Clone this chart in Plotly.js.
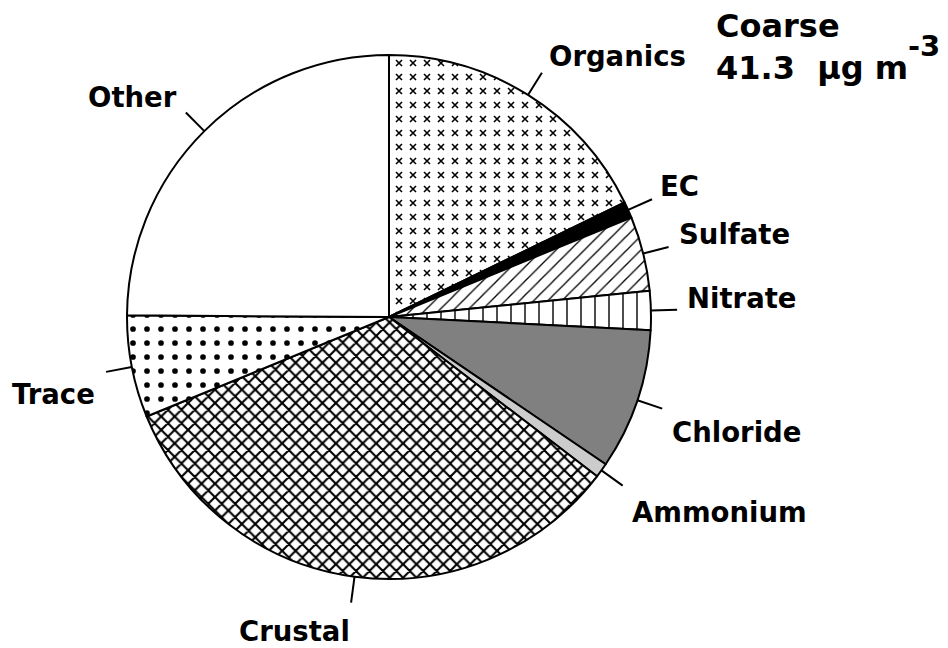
<!DOCTYPE html>
<html>
<head>
<meta charset="utf-8">
<script src="https://cdn.plot.ly/plotly-3.0.1.min.js"></script>
<style>
html,body{margin:0;padding:0;background:#fff;}
#chart{width:948px;height:648px;}
</style>
</head>
<body>
<div id="chart"></div>
<script>
// ---- data ----
const categories = ['Organics', 'EC', 'Sulfate', 'Nitrate', 'Chloride', 'Ammonium', 'Crustal', 'Trace', 'Other'];
const values = [17.8, 1.0, 4.6, 2.4, 8.7, 0.9, 33.4, 6.3, 24.9];
const titleLine1 = 'Coarse';
const titleLine2 = '41.3\u00a0\u00a0\u00b5g m';
const titleExponent = '-3';

// ---- styles ----
const sliceColors = ['#000000', '#000000', '#000000', '#000000', '#808080', '#cccccc', '#000000', '#000000', '#ffffff'];
const patternShapes = ['x', '', '/', '|', '', '', 'x', '.', ''];
const patternSizes = [10, 8, 10, 14, 8, 8, 9.5, 14, 8];
const patternSolidity = [0.15, 0.3, 0.13, 0.1, 0.3, 0.3, 0.4, 0.13, 0.3];
const labelStyle = {
  Organics: ['left', 5, 17], EC: ['left', 6, 13], Sulfate: ['left', 8, 13], Nitrate: ['left', 8, 12],
  Chloride: ['left', 8, -23], Ammonium: ['left', 7, -26], Crustal: ['center', -57, -28],
  Trace: ['right', -9, -22], Other: ['right', -7, 16]
};

const W = 948, H = 648;
const CX = 389, CY = 317, R = 262;
const FONT = 'DejaVu Sans, Arial, sans-serif';

const total = values.reduce((a, b) => a + b, 0);
const toPaper = (px, py) => [px / W, 1 - py / H];

const shapes = [];
const annotations = [];
let cum = 0;
categories.forEach((c, i) => {
  const mid = (cum + values[i] / 2) / total * 2 * Math.PI;
  cum += values[i];
  const p1 = toPaper(CX + R * Math.sin(mid), CY - R * Math.cos(mid));
  const p2 = toPaper(CX + 1.1 * R * Math.sin(mid), CY - 1.1 * R * Math.cos(mid));
  shapes.push({type: 'line', xref: 'paper', yref: 'paper', x0: p1[0], y0: p1[1], x1: p2[0], y1: p2[1],
    line: {color: '#000', width: 2}});
  const st = labelStyle[c];
  annotations.push({xref: 'paper', yref: 'paper', x: p2[0], y: p2[1], text: c, showarrow: false,
    xanchor: st[0], yanchor: 'middle', xshift: st[1], yshift: st[2],
    font: {family: FONT, size: 27.5, color: '#000', weight: 'bold'}});
});

annotations.push({xref: 'paper', yref: 'paper', x: 715 / W, y: 1 - 47 / H,
  text: titleLine1 + '<br>' + titleLine2, align: 'left', showarrow: false,
  xanchor: 'left', yanchor: 'middle', borderpad: 0,
  font: {family: FONT, size: 32, color: '#000', weight: 'bold'}});
annotations.push({xref: 'paper', yref: 'paper', x: 907 / W, y: 1 - 46 / H, text: titleExponent,
  showarrow: false, xanchor: 'left', yanchor: 'middle', borderpad: 0,
  font: {family: FONT, size: 29, color: '#000', weight: 'bold'}});

const data = [{
  type: 'pie',
  labels: categories,
  values: values,
  sort: false,
  direction: 'clockwise',
  rotation: 0,
  textinfo: 'none',
  hoverinfo: 'none',
  domain: {x: [(CX - R) / W, (CX + R) / W], y: [1 - (CY + R) / H, 1 - (CY - R) / H]},
  marker: {
    colors: sliceColors,
    line: {color: '#000000', width: 2},
    pattern: {
      shape: patternShapes,
      size: patternSizes,
      solidity: patternSolidity,
      fillmode: 'replace',
      fgcolor: '#000000',
      bgcolor: '#ffffff'
    }
  }
}];

const layout = {
  width: W, height: H,
  margin: {l: 0, r: 0, t: 0, b: 0},
  paper_bgcolor: '#ffffff',
  plot_bgcolor: '#ffffff',
  showlegend: false,
  shapes: shapes,
  annotations: annotations
};

Plotly.newPlot('chart', data, layout, {staticPlot: true, displayModeBar: false}).then(function (gd) {
  // Organics: small separate x marks instead of a continuous crosshatch
  try {
    const surf = gd.querySelectorAll('g.slice path.surface')[0];
    const fill = surf.style.fill || surf.getAttribute('fill') || '';
    const m = /url\(["']?#([^"')]+)["']?\)/.exec(fill);
    if (m) {
      const pat = document.getElementById(m[1]);
      if (pat) {
        pat.setAttribute('width', 14);
        pat.setAttribute('height', 14);
        const path = pat.querySelector('path');
        if (path) {
          path.setAttribute('d', 'M4,4L10,10M10,4L4,10');
          path.style.strokeWidth = '1.6px';
          path.setAttribute('stroke-width', '1.6');
        }
        const rect = pat.querySelector('rect');
        if (rect) { rect.setAttribute('width', 14); rect.setAttribute('height', 14); }
      }
    }
  } catch (e) {}
});
</script>
</body>
</html>
